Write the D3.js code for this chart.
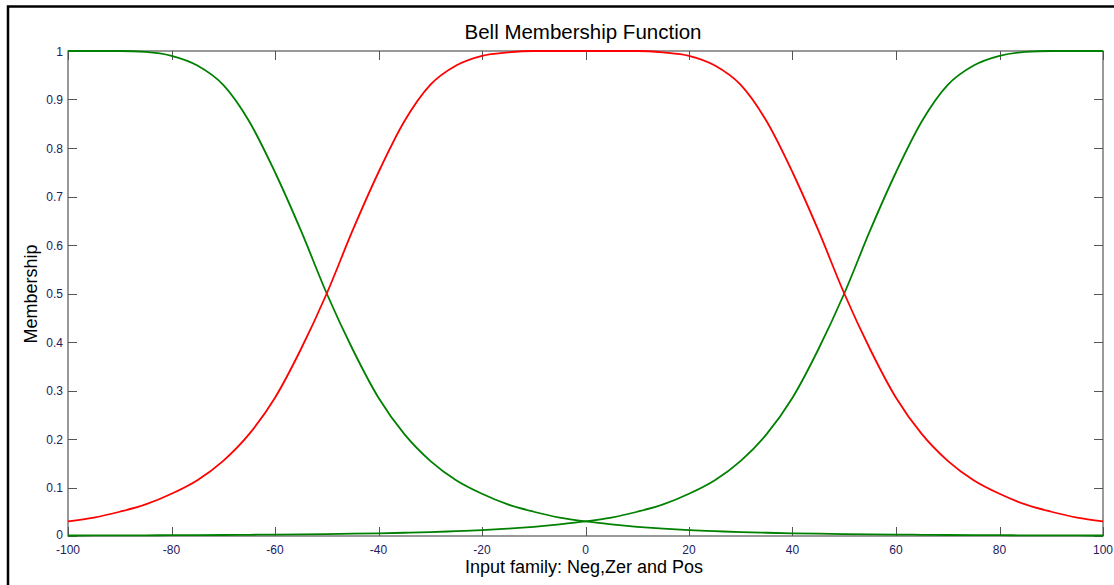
<!DOCTYPE html>
<html>
<head>
<meta charset="utf-8">
<script src="https://cdn.jsdelivr.net/npm/d3@7"></script>
<style>
html,body{margin:0;padding:0;background:#fff;}
svg{display:block;font-family:Arial,"Liberation Sans",sans-serif;}
</style>
</head>
<body>
<svg id="chart" width="1114" height="585"></svg>
<script>
const xValues = [-100,-95,-90,-85,-80,-75,-70,-65,-60,-55,-50,-45,-40,-35,-30,-25,-20,-15,-10,-5,0,5,10,15,20,25,30,35,40,45,50,55,60,65,70,75,80,85,90,95,100];
const negValues = [1,1,1,0.998,0.99,0.97,0.93,0.855,0.75,0.63,0.5,0.385,0.285,0.21,0.155,0.115,0.087,0.065,0.05,0.038,0.03,0.024,0.019,0.015,0.012,0.01,0.008,0.0067,0.0056,0.0047,0.004,0.0034,0.0029,0.0025,0.0021,0.0018,0.0016,0.0014,0.0012,0.0011,0.001];
const zerValues = [0.03,0.038,0.05,0.065,0.087,0.115,0.155,0.21,0.285,0.385,0.5,0.63,0.75,0.855,0.93,0.97,0.99,0.997,1,1,1,1,1,0.997,0.99,0.97,0.93,0.855,0.75,0.63,0.5,0.385,0.285,0.21,0.155,0.115,0.087,0.065,0.05,0.038,0.03];
const posValues = [0.001,0.0011,0.0012,0.0014,0.0016,0.0018,0.0021,0.0025,0.0029,0.0034,0.004,0.0047,0.0056,0.0067,0.008,0.01,0.012,0.015,0.019,0.024,0.03,0.038,0.05,0.065,0.087,0.115,0.155,0.21,0.285,0.385,0.5,0.63,0.75,0.855,0.93,0.97,0.99,0.998,1,1,1];
const xTicks = [-100,-80,-60,-40,-20,0,20,40,60,80,100];
const yTicks = [0,0.1,0.2,0.3,0.4,0.5,0.6,0.7,0.8,0.9,1];
const seriesList = [
  {name:"Neg", values:negValues, color:"#008000"},
  {name:"Pos", values:posValues, color:"#008000"},
  {name:"Zer", values:zerValues, color:"#ff0000"}
];

const svg = d3.select("#chart");
const L = 68, R = 1103, T = 51, B = 536;
const x = d3.scaleLinear().domain([-100,100]).range([L,R]);
const y = d3.scaleLinear().domain([0,1]).range([B,T]);

svg.append("path").attr("d",`M8,585 L8,6.5 L1114,6.5`).attr("fill","none").attr("stroke","#000").attr("stroke-width",2.5);

svg.append("rect").attr("x",L).attr("y",T).attr("width",R-L).attr("height",B-T)
  .attr("fill","#fff").attr("stroke","#555").attr("stroke-width",1.2);

const tickColor = "#555";
const labelColor = "#202060";
const tl = 9;
const gx = svg.append("g");
xTicks.forEach(t=>{
  const px = Math.round(x(t))+0.5;
  gx.append("line").attr("x1",px).attr("x2",px).attr("y1",B).attr("y2",B-tl).attr("stroke",tickColor);
  gx.append("line").attr("x1",px).attr("x2",px).attr("y1",T).attr("y2",T+tl).attr("stroke",tickColor);
  gx.append("text").attr("x",x(t)).attr("y",B+17.5).attr("text-anchor","middle")
    .attr("font-size",12).attr("fill",labelColor).text(t);
});
const gy = svg.append("g");
yTicks.forEach(t=>{
  const py = Math.round(y(t))+0.5;
  gy.append("line").attr("x1",L).attr("x2",L+tl).attr("y1",py).attr("y2",py).attr("stroke",tickColor);
  gy.append("line").attr("x1",R).attr("x2",R-tl).attr("y1",py).attr("y2",py).attr("stroke",tickColor);
  gy.append("text").attr("x",L-5).attr("y",y(t)+(t===0?3:4.5)).attr("text-anchor","end")
    .attr("font-size",12).attr("fill",labelColor).text(t);
});

const line = d3.line().x((d,i)=>x(xValues[i])).y(d=>y(d)).curve(d3.curveMonotoneX);
seriesList.forEach(s=>{
  svg.append("path").datum(s.values).attr("d",line).attr("fill","none")
    .attr("stroke",s.color).attr("stroke-width",1.8);
});

svg.append("text").attr("x",583).attr("y",39).attr("text-anchor","middle")
  .attr("font-size",20.5).attr("fill","#000").text("Bell Membership Function");
svg.append("text").attr("x",584).attr("y",573).attr("text-anchor","middle")
  .attr("font-size",18).attr("fill","#000").text("Input family: Neg,Zer and Pos");
svg.append("text").attr("transform","translate(37,294) rotate(-90)").attr("text-anchor","middle")
  .attr("font-size",18).attr("fill","#000").text("Membership");
</script>
</body>
</html>
